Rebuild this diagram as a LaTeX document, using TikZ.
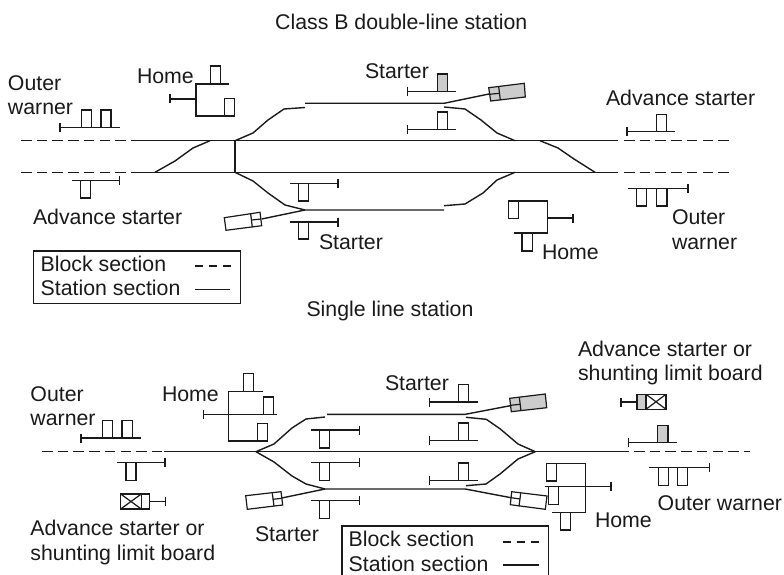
\documentclass[tikz,border=0pt]{standalone}
\usepackage{fontspec}
\setmainfont{Liberation Sans}
\definecolor{sigray}{HTML}{CCCCCC}
\definecolor{ink}{HTML}{1A1A1A}
\tikzset{
  lbl/.style={anchor=base west,inner sep=0pt,outer sep=0pt,text=ink,font=\fontsize{21.3}{25}\selectfont},
  ctitle/.style={anchor=base,inner sep=0pt,outer sep=0pt,text=ink,font=\fontsize{21.3}{25}\selectfont},
  wire/.style={draw=ink,line width=1.2pt,line join=miter},
  track/.style={draw=ink,line width=1.4pt,line join=round},
  block/.style={draw=ink,line width=1.4pt,dash pattern=on 10.5pt off 5.2pt},
  legdash/.style={draw=ink,line width=1.2pt,dash pattern=on 8pt off 6pt},
  board/.style={draw=ink,line width=1.2pt,fill=white},
  gboard/.style={draw=ink,line width=1.2pt,fill=sigray},
}
\newcommand{\tick}[2]{\draw[wire] (#1,#2-4.5) -- (#1,#2+4.5);}
\begin{document}
\begin{tikzpicture}[x=1pt,y=-1pt]
\useasboundingbox (0,0) rectangle (784,575);
% ---------- titles
\node[ctitle] (t1) at (401.3,30) {Class B double-line station};
\node[ctitle] (t2) at (390,316) {Single line station};
% ---------- top tracks
\draw[block] (21,140.7) -- (140,140.7);
\draw[block] (21,172.3) -- (140,172.3);
\draw[block] (624,140.7) -- (729,140.7);
\draw[block] (624,172.3) -- (729,172.3);
\draw[track] (140,140.7) -- (618,140.7);
\draw[track] (140,172.3) -- (618,172.3);
\draw[track] (155,172.3) -- (175,161) -- (193,148) -- (210,140.7);
\draw[track] (235,140.7) -- (235,172.3);
\draw[track] (235,140.7) -- (253,133) -- (268,120) -- (284,109) -- (305,107.5);
\draw[track] (305,103.3) -- (444,103.3) -- (489,94);
\draw[track] (444,107) -- (465,109) -- (481,120) -- (497,133) -- (515,140.7);
\draw[track] (235,172.3) -- (253,181) -- (268,193) -- (285,205) -- (305,210) -- (444,210);
\draw[track] (305,210) -- (261.7,219);
\draw[track] (444,205.7) -- (465,204) -- (483,193) -- (497,180) -- (515,172.3);
\draw[track] (540,140.7) -- (558,148) -- (574,159) -- (595,172.3);
% ---------- top signals
% outer warner left
\draw[wire] (60,127.3) -- (119.7,127.3); \tick{60}{127.3}
\draw[board] (81.3,110) rectangle (91.3,127.3);
\draw[board] (101,110) rectangle (111,127.3);
% home left
\draw[wire] (229,84) -- (196,84) -- (196,116) -- (224.3,116);
\draw[wire] (170,99) -- (196,99); \tick{170}{99}
\draw[board] (210.7,66) rectangle (220.7,84);
\draw[board] (224.3,98.7) rectangle (234.3,116);
% starters top
\draw[wire] (407.7,91.3) -- (456,91.3); \tick{407.7}{91.3}
\draw[gboard] (437.7,74) rectangle (447.7,91.3);
\draw[wire] (407.7,129.7) -- (456,129.7); \tick{407.7}{129.7}
\draw[board] (437.7,112) rectangle (447.7,129.7);
% tilted grey
\draw[gboard] (488.7,87.7) -- (524.3,83.3) -- (525.3,97) -- (490.7,101) -- cycle;
\draw[wire] (498.7,86.7) -- (500.3,100);
\draw[wire] (489.3,94.3) -- (499.7,93.3);
% advance starter right
\draw[wire] (627,131.7) -- (675,131.7); \tick{627}{131.7}
\draw[board] (656.7,114.3) rectangle (666.7,131.7);
% outer warner right
\draw[wire] (628,188.3) -- (688,188.3); \tick{688}{188.3}
\draw[board] (636.3,188.3) rectangle (646.7,206);
\draw[board] (656.3,188.3) rectangle (667,206);
% home right
\draw[wire] (518.7,201) -- (547.7,201) -- (547.7,233) -- (513.7,233);
\draw[wire] (547.7,218) -- (573,218); \tick{573}{218}
\draw[board] (508.7,201) rectangle (518.7,218.7);
\draw[board] (522,233) rectangle (532.7,251);
% advance starter left
\draw[wire] (72,180.7) -- (119.7,180.7); \tick{119.7}{180.7}
\draw[board] (80.3,180.7) rectangle (90.3,198);
% lower starters
\draw[wire] (289.7,183.7) -- (338,183.7); \tick{338}{183.7}
\draw[board] (298.7,183.7) rectangle (308.3,201);
\draw[wire] (289.7,222) -- (338,222); \tick{338}{222}
\draw[board] (298.7,222) rectangle (308.3,239);
% tilted white
\draw[board] (224.3,217.7) -- (260,212.3) -- (261.7,225.7) -- (226,230.3) -- cycle;
\draw[wire] (250.7,214) -- (252.3,227.3);
\draw[wire] (251.7,220) -- (261,219);
% ---------- top labels
\node[lbl] (a1) at (8,90.7) {Outer};
\node[lbl] (a2) at (8,114) {warner};
\node[lbl] (a3) at (137,83.3) {Home};
\node[lbl] (a4) at (365,79) {Starter};
\node[lbl] (a5) at (33,224) {Advance starter};
\node[lbl] (a6) at (319,249) {Starter};
\node[lbl] (a7) at (542,259) {Home};
\node[lbl] (a8) at (672,224) {Outer};
\node[lbl] (a9) at (672,249) {warner};
\node[lbl] (a10) at (606,105.7) {Advance starter};
% legend top
\draw[wire] (33.3,251) rectangle (240.7,303.3);
\node[lbl] (l1) at (40.7,271.7) {Block section};
\node[lbl] (l2) at (40.7,295.7) {Station section};
\coordinate (d1a) at (195,266); \coordinate (d1b) at (232,266);
\coordinate (s1a) at (195,289.3); \coordinate (s1b) at (230,289.3);
\draw[legdash] (d1a) -- (d1b);
\draw[wire] (s1a) -- (s1b);
% ---------- lower tracks
\draw[block] (42,451.7) -- (164,451.7);
\draw[block] (634,451.7) -- (750,451.7);
\draw[track] (164,451.7) -- (628.7,451.7);
\draw[track] (256,451.7) -- (274,444) -- (292,428) -- (306,419) -- (325,417);
\draw[track] (327,414.3) -- (465.3,414.3) -- (510.3,405.7);
\draw[track] (466,417.3) -- (486.3,419.3) -- (500.3,429) -- (518,444) -- (535.3,451.7);
\draw[track] (256,451.7) -- (274,462) -- (292,476) -- (306,484) -- (325,489) -- (465.3,489) -- (511,497.7);
\draw[track] (325,489) -- (281.7,498);
\draw[track] (466,485.7) -- (486,484) -- (500,474) -- (518,459) -- (535.3,451.7);
% ---------- lower signals
\draw[wire] (81,438) -- (141,438); \tick{81}{438}
\draw[board] (102.3,420.3) rectangle (112.3,438);
\draw[board] (122,420.3) rectangle (132.3,438);
% home left
\draw[wire] (262.7,391.3) -- (228.7,391.3) -- (228.7,441) -- (257.7,441);
\draw[wire] (203.3,414.7) -- (277,414.7); \tick{203.3}{414.7}
\draw[board] (243.7,373.7) rectangle (253.7,391.3);
\draw[board] (263.3,397) rectangle (273.3,414.7);
\draw[board] (257.7,423.7) rectangle (267.7,441);
% advance left
\draw[wire] (117,462.7) -- (165,462.7); \tick{165}{462.7}
\draw[board] (126,462.7) rectangle (136,480.3);
% board left
\draw[board] (120.7,494) rectangle (141.3,509);
\draw[wire] (120.7,494) -- (141.3,509) (120.7,509) -- (141.3,494);
\draw[board] (141.3,494) rectangle (149.7,509);
\draw[wire] (149.7,501.7) -- (165.7,501.7); \tick{165.7}{501.7}
% starters
\draw[wire] (311,430) -- (359.3,430); \tick{359.3}{430}
\draw[board] (319.3,430) rectangle (329.3,448);
\draw[wire] (311,462.7) -- (359.3,462.7); \tick{359.3}{462.7}
\draw[board] (319.3,462.7) rectangle (329.3,480.7);
\draw[wire] (311,500.7) -- (359.3,500.7); \tick{359.3}{500.7}
\draw[board] (319.3,500.7) rectangle (329.3,518.7);
\draw[wire] (429.3,402) -- (477.7,402); \tick{429.3}{402}
\draw[board] (458.3,384.7) rectangle (468.7,402);
\draw[wire] (429.3,440.3) -- (477.7,440.3); \tick{429.3}{440.3}
\draw[board] (458.3,423) rectangle (468.7,440.3);
\draw[wire] (429.3,480.7) -- (477.7,480.7); \tick{429.3}{480.7}
\draw[board] (458.3,463) rectangle (468.7,480.7);
% tilted left white
\draw[board] (245.7,495.7) -- (281,491.7) -- (282.7,505) -- (247.3,509.3) -- cycle;
\draw[wire] (272.3,493.3) -- (274,506);
\draw[wire] (272.7,499.3) -- (281.7,498.3);
% tilted right grey
\draw[gboard] (509.7,398.3) -- (545.3,394) -- (546.7,407.7) -- (511.3,411.7) -- cycle;
\draw[wire] (519.3,397.3) -- (521,410.7);
\draw[wire] (510.3,405.3) -- (520.3,404.3);
% tilted right white
\draw[board] (511.7,491.7) -- (547,496) -- (545.3,509.3) -- (510.3,504.7) -- cycle;
\draw[wire] (520.7,493.3) -- (519,506.3);
\draw[wire] (511,497.7) -- (520,499);
% board right
\draw[gboard] (637,394.3) rectangle (646,409.3);
\draw[board] (646,394.3) rectangle (666,409.3);
\draw[wire] (646,394.3) -- (666,409.3) (646,409.3) -- (666,394.3);
\draw[wire] (621,402) -- (637,402); \tick{621}{402}
% grey advance
\draw[wire] (628.7,442.7) -- (677,442.7); \tick{628.7}{442.7}
\draw[gboard] (657.7,425.3) rectangle (668,442.7);
% outer warner right
\draw[wire] (649.3,467.7) -- (709.3,467.7); \tick{709.3}{467.7}
\draw[board] (658.3,467.7) rectangle (668.3,485.3);
\draw[board] (677.7,467.7) rectangle (687.7,485.3);
% home right
\draw[wire] (556.7,463.7) -- (585.7,463.7) -- (585.7,512.7) -- (552,512.7);
\draw[wire] (544.7,486.7) -- (611,486.7); \tick{611}{486.7}
\draw[board] (546.7,463.7) rectangle (556.7,481);
\draw[board] (548.3,486.7) rectangle (558.3,504.3);
\draw[board] (560.3,512.7) rectangle (570.3,530);
% ---------- lower labels
\node[lbl] (b1) at (30.5,401) {Outer};
\node[lbl] (b2) at (30.5,425) {warner};
\node[lbl] (b3) at (162,401.7) {Home};
\node[lbl] (b4) at (385,390) {Starter};
\node[lbl] (b5) at (30.5,535.7) {Advance starter or};
\node[lbl] (b6) at (30.5,560) {shunting limit board};
\node[lbl] (b7) at (255,541.7) {Starter};
\node[lbl] (b8) at (578,356.7) {Advance starter or};
\node[lbl] (b9) at (578,380.7) {shunting limit board};
\node[lbl] (b10) at (657.7,510.7) {Outer warner};
\node[lbl] (b11) at (595,527.3) {Home};
% legend lower
\draw[wire] (342,576) -- (342,526) -- (548.3,526) -- (548.3,576);
\node[lbl] (l3) at (348.7,546.7) {Block section};
\node[lbl] (l4) at (348.7,571.7) {Station section};
\coordinate (d2a) at (502.7,542); \coordinate (d2b) at (539.7,542);
\coordinate (s2a) at (502.7,565); \coordinate (s2b) at (538.7,565);
\draw[legdash] (d2a) -- (d2b);
\draw[wire] (s2a) -- (s2b);
\end{tikzpicture}
\end{document}
